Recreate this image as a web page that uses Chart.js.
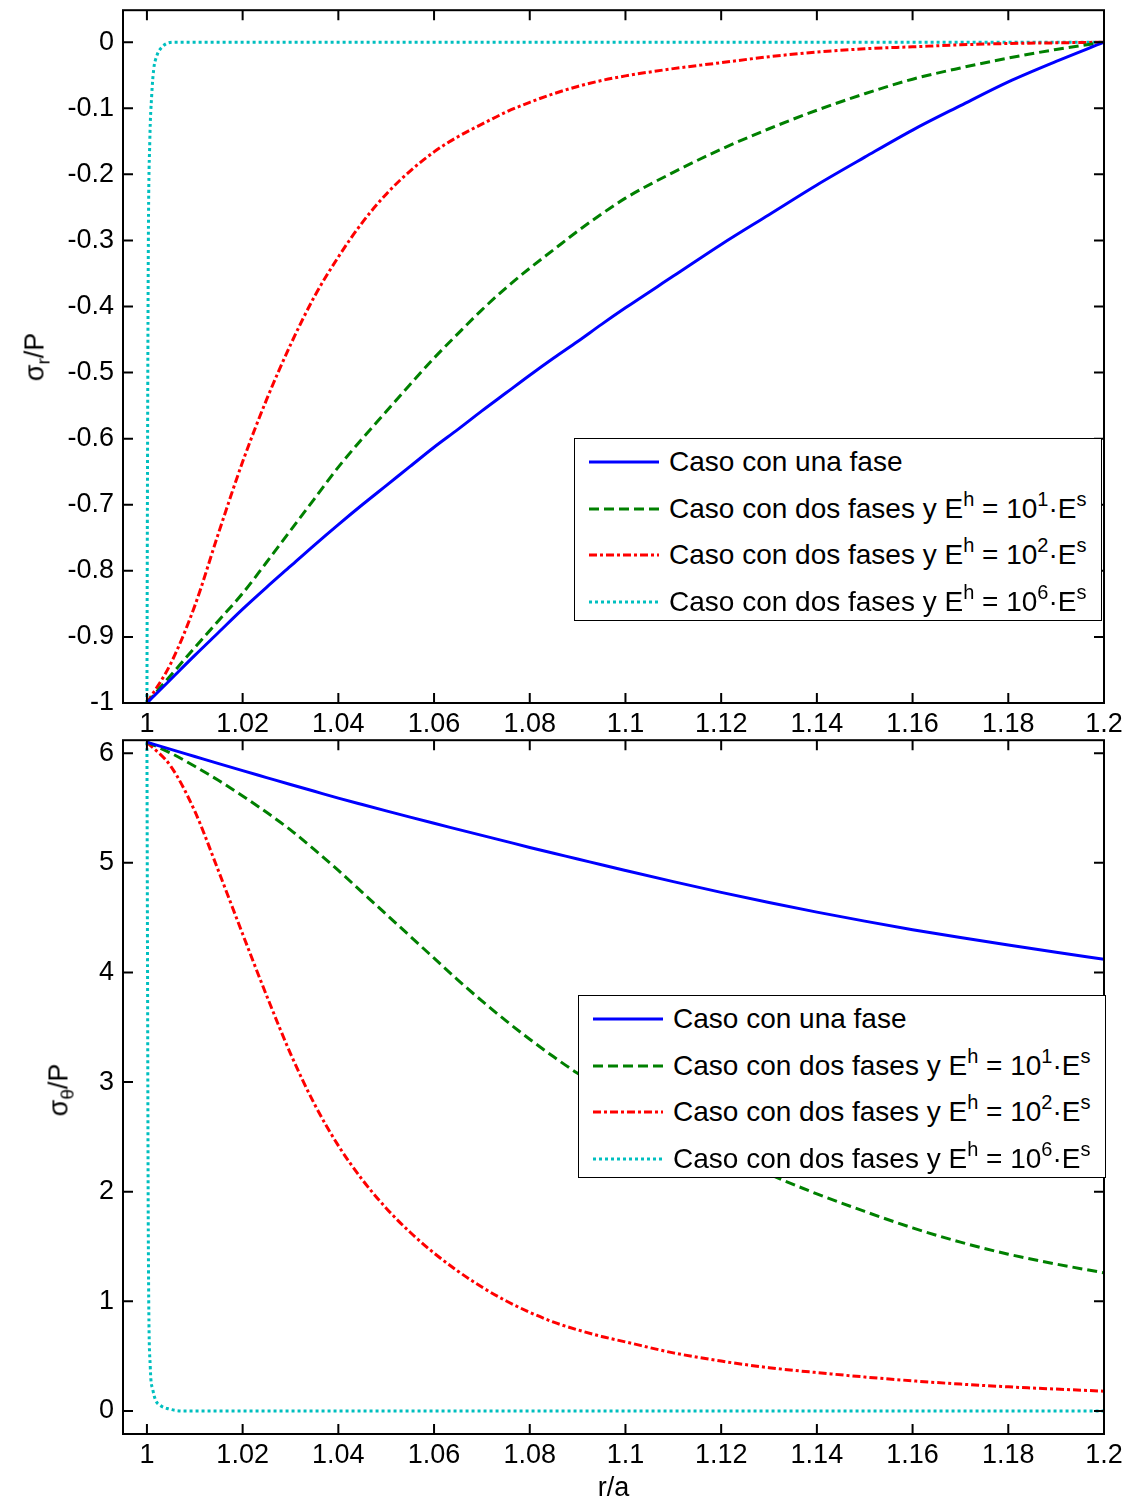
<!DOCTYPE html>
<html>
<head>
<meta charset="utf-8">
<script src="https://cdn.jsdelivr.net/npm/chart.js@4/dist/chart.umd.min.js"></script>
<style>
  body { margin: 0; background: #fff; font-family: "Liberation Sans", Arial, sans-serif; }
  #wrap { position: relative; width: 1135px; height: 1505px; overflow: hidden; }
  canvas { position: absolute; left: 0; }
  .ytitle { position: absolute; font-size: 27px; white-space: nowrap; color: #000;
            transform: translate(-50%, -50%) rotate(-90deg); }
  .ytitle sub { font-size: 19px; vertical-align: 0; position: relative; top: 0.3em; }
  .legend { position: absolute; width: 526px; height: 181px; background: #fff;
            border: 1.5px solid #000; font-size: 28px; color: #000; }
  .legend .row { position: absolute; left: 0; height: 46px; line-height: 46px; white-space: nowrap; }
  .legend svg { position: absolute; left: 14px; top: 18px; }
  .legend span.t { position: absolute; left: 94px; top: 0; }
  .legend sup { font-size: 20px; vertical-align: 0; position: relative; top: -0.6em; }
</style>
</head>
<body>
<div id="wrap">
  <canvas id="top" width="1135" height="755" style="top:-15px"></canvas>
  <canvas id="bottom" width="1135" height="790" style="top:715px"></canvas>
  <div class="ytitle" style="left:35px; top:357px">σ<sub>r</sub>/P</div>
  <div class="ytitle" style="left:59px; top:1090px">σ<sub>θ</sub>/P</div>
  <div class="legend" id="legTop" style="left:574px; top:438px"></div>
  <div class="legend" id="legBottom" style="left:578px; top:995px"></div>
</div>
<script>
// r/a grid used for the three smooth curves
var rGrid = [1.000, 1.005, 1.010, 1.015, 1.020, 1.025, 1.030, 1.035, 1.040, 1.045,
             1.050, 1.055, 1.060, 1.065, 1.070, 1.075, 1.080, 1.085, 1.090, 1.095,
             1.100, 1.110, 1.120, 1.130, 1.140, 1.150, 1.160, 1.170, 1.180, 1.190, 1.200];

// sigma_r / P
var srUna = [-1.000, -0.964, -0.928, -0.893, -0.858, -0.825, -0.793, -0.761, -0.730, -0.700,
             -0.671, -0.642, -0.613, -0.586, -0.558, -0.531, -0.504, -0.478, -0.453, -0.427,
             -0.402, -0.354, -0.306, -0.261, -0.216, -0.174, -0.133, -0.096, -0.060, -0.029, 0.000];
var srE1  = [-1.000, -0.958, -0.916, -0.875, -0.834, -0.787, -0.739, -0.691, -0.643, -0.600,
             -0.559, -0.518, -0.478, -0.441, -0.405, -0.372, -0.342, -0.314, -0.286, -0.260,
             -0.236, -0.197, -0.162, -0.131, -0.103, -0.078, -0.056, -0.039, -0.024, -0.011, 0.000];
var srE2  = [-1.000, -0.940, -0.853, -0.742, -0.635, -0.541, -0.458, -0.385, -0.325, -0.273,
             -0.230, -0.195, -0.166, -0.143, -0.124, -0.106, -0.091, -0.078, -0.067, -0.058,
             -0.051, -0.040, -0.031, -0.022, -0.015, -0.010, -0.007, -0.004, -0.002, -0.001, 0.000];
var rE6top  = [1.0, 1.0001, 1.0003, 1.0006, 1.001, 1.0014, 1.002, 1.0032, 1.0055, 1.2];
var srE6    = [-1, -0.7, -0.3, -0.15, -0.08, -0.042, -0.022, -0.007, 0, 0];

// sigma_theta / P
var stUna = [6.100, 6.034, 5.969, 5.904, 5.840, 5.777, 5.714, 5.652, 5.590, 5.531,
             5.473, 5.416, 5.360, 5.305, 5.250, 5.195, 5.140, 5.087, 5.035, 4.982,
             4.930, 4.828, 4.730, 4.638, 4.550, 4.468, 4.390, 4.318, 4.250, 4.184, 4.120];
var stE1  = [6.10, 6.00, 5.88, 5.75, 5.61, 5.46, 5.30, 5.12, 4.93, 4.73,
             4.53, 4.33, 4.13, 3.93, 3.74, 3.56, 3.39, 3.23, 3.08, 2.95,
             2.82, 2.58, 2.36, 2.16, 1.98, 1.82, 1.67, 1.54, 1.43, 1.34, 1.26];
var stE2  = [6.10, 5.88, 5.47, 4.92, 4.35, 3.79, 3.26, 2.80, 2.42, 2.11,
             1.85, 1.63, 1.44, 1.275, 1.13, 1.005, 0.90, 0.81, 0.74, 0.68,
             0.63, 0.53, 0.455, 0.395, 0.35, 0.31, 0.275, 0.245, 0.22, 0.20, 0.18];
var rE6bot  = [1.0, 1.0001, 1.0003, 1.0007, 1.0012, 1.0018, 1.0028, 1.0045, 1.0075, 1.2];
var stE6    = [6.1, 4.5, 1.5, 0.4, 0.2, 0.1, 0.05, 0.02, 0, 0];

var xTicks = [1, 1.02, 1.04, 1.06, 1.08, 1.1, 1.12, 1.14, 1.16, 1.18, 1.2];
var yTicksTop = [-1, -0.9, -0.8, -0.7, -0.6, -0.5, -0.4, -0.3, -0.2, -0.1, 0];
var yTicksBottom = [0, 1, 2, 3, 4, 5, 6];

var labels = ["Caso con una fase", "Caso con dos fases y E", "Caso con dos fases y E", "Caso con dos fases y E"];
var exps = [null, 1, 2, 6];
var colors = ["#0000FF", "#008000", "#FF0000", "#00BFBF"];
var dashes = [[], [10, 5], [8, 3, 3, 3], [3, 3]];

var FONT = "'Liberation Sans', Arial, sans-serif";

function pts(xs, ys) {
  return xs.map(function(x, i) { return {x: x, y: ys[i]}; });
}

function ds(i, data) {
  return {
    label: labels[i],
    data: data,
    borderColor: colors[i],
    borderWidth: 3,
    borderDash: dashes[i],
    pointRadius: 0,
    fill: false,
    cubicInterpolationMode: 'monotone'
  };
}

var boxTicks = {
  id: 'boxTicks',
  afterDraw: function(chart) {
    var ctx = chart.ctx, a = chart.chartArea, x = chart.scales.x, y = chart.scales.y;
    ctx.save();
    ctx.strokeStyle = '#000';
    ctx.lineWidth = 2;
    ctx.beginPath();
    x.ticks.forEach(function(t) {
      var px = x.getPixelForValue(t.value);
      ctx.moveTo(px, a.bottom); ctx.lineTo(px, a.bottom - 10);
      ctx.moveTo(px, a.top); ctx.lineTo(px, a.top + 10);
    });
    y.ticks.forEach(function(t) {
      var py = y.getPixelForValue(t.value);
      ctx.moveTo(a.left, py); ctx.lineTo(a.left + 10, py);
      ctx.moveTo(a.right, py); ctx.lineTo(a.right - 10, py);
    });
    ctx.stroke();
    ctx.strokeRect(a.left, a.top, a.right - a.left, a.bottom - a.top);
    ctx.restore();
  }
};

function makeChart(id, datasets, yMin, yMax, yTicks, xHeight, padTop, showTitle) {
  return new Chart(document.getElementById(id), {
    type: 'line',
    data: { datasets: datasets },
    plugins: [boxTicks],
    options: {
      responsive: false,
      animation: false,
      layout: { padding: { top: padTop, right: 31, left: 0, bottom: 0 } },
      plugins: { legend: { display: false }, tooltip: { enabled: false } },
      scales: {
        x: {
          type: 'linear', min: 0.995, max: 1.2,
          grid: { display: false, drawTicks: false },
          border: { display: false },
          afterBuildTicks: function(s) { s.ticks = xTicks.map(function(v) { return {value: v}; }); },
          afterFit: function(s) { s.height = xHeight; },
          ticks: { autoSkip: false, maxRotation: 0, padding: 5, color: '#000',
                   font: { family: FONT, size: 27 },
                   callback: function(v) { return String(v); } },
          title: { display: showTitle, text: 'r/a', color: '#000',
                   font: { family: FONT, size: 27 }, padding: { top: 0, bottom: 0 } }
        },
        y: {
          type: 'linear', min: yMin, max: yMax,
          grid: { display: false, drawTicks: false },
          border: { display: false },
          afterBuildTicks: function(s) { s.ticks = yTicks.map(function(v) { return {value: v}; }); },
          afterFit: function(s) { s.width = 123; },
          ticks: { autoSkip: false, padding: 9, color: '#000',
                   font: { family: FONT, size: 27 },
                   callback: function(v) { return String(v); } }
        }
      }
    }
  });
}

makeChart('top', [
  ds(0, pts(rGrid, srUna)),
  ds(1, pts(rGrid, srE1)),
  ds(2, pts(rGrid, srE2)),
  ds(3, pts(rE6top, srE6))
], -1, 0.0484, yTicksTop, 37, 25, false);

makeChart('bottom', [
  ds(0, pts(rGrid, stUna)),
  ds(1, pts(rGrid, stE1)),
  ds(2, pts(rGrid, stE2)),
  ds(3, pts(rE6bot, stE6))
], -0.21, 6.118, yTicksBottom, 71, 25, true);

function buildLegend(id) {
  var box = document.getElementById(id);
  labels.forEach(function(lab, i) {
    var row = document.createElement('div');
    row.className = 'row';
    row.style.top = (i * 46.5) + 'px';
    var dash = dashes[i].length ? dashes[i].join(' ') : 'none';
    row.innerHTML = '<svg width="70" height="10"><line x1="0" y1="5" x2="70" y2="5" stroke="' + colors[i] +
      '" stroke-width="3" stroke-dasharray="' + dash + '"/></svg>';
    var t = document.createElement('span');
    t.className = 't';
    t.innerHTML = exps[i] === null ? lab :
      lab + '<sup>h</sup> = 10<sup>' + exps[i] + '</sup>·E<sup>s</sup>';
    row.appendChild(t);
    box.appendChild(row);
  });
}
buildLegend('legTop');
buildLegend('legBottom');
</script>
</body>
</html>
